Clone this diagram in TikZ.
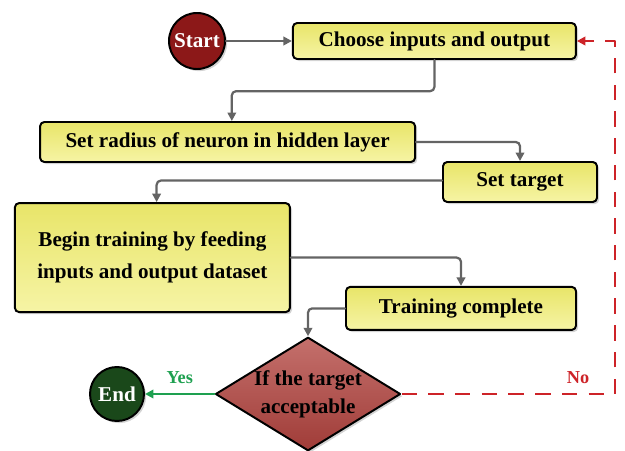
\documentclass[tikz,border=0pt]{standalone}
\usepackage{fontspec}
\setmainfont{Liberation Serif}
\usepackage{tikz}
\usetikzlibrary{calc,arrows.meta,positioning,shadows}
\usetikzlibrary{shapes.geometric}

\definecolor{boxtop}{RGB}{232,229,105}
\definecolor{boxbottom}{RGB}{246,244,165}
\definecolor{startred}{RGB}{140,24,24}
\definecolor{endgreen}{RGB}{26,72,26}
\definecolor{decidetop}{RGB}{196,112,108}
\definecolor{decidebottom}{RGB}{160,60,56}
\definecolor{flowgray}{RGB}{100,100,100}
\definecolor{yesgreen}{RGB}{30,160,80}
\definecolor{nored}{RGB}{205,35,40}

\begin{document}
\begin{tikzpicture}[
  line cap=round,
  line join=round,
  procbox/.style={draw=black,line width=1.4pt,rounded corners=3pt,
    top color=boxtop,bottom color=boxbottom,align=center,
    font=\fontsize{15}{22.5}\selectfont\bfseries,inner sep=2pt,
    drop shadow={opacity=0.35,shadow xshift=1.5pt,shadow yshift=-1.5pt}},
  termnode/.style={circle,draw=black,line width=1.4pt,text=white,
    font=\fontsize{15}{18}\selectfont\bfseries,inner sep=1pt,
    drop shadow={opacity=0.35,shadow xshift=1.5pt,shadow yshift=-1.5pt}},
  decision/.style={diamond,draw=black,line width=1.4pt,aspect=1.63,
    top color=decidetop,bottom color=decidebottom,align=center,
    font=\fontsize{15}{20}\selectfont\bfseries,inner sep=0pt,
    minimum width=4.4cm,minimum height=2.7cm,
    drop shadow={opacity=0.35,shadow xshift=1.5pt,shadow yshift=-1.5pt}},
  flowline/.style={flowgray,line width=1.6pt,rounded corners=3pt,
    -{Triangle[length=6pt,width=6pt]}},
  yesline/.style={yesgreen,line width=1.6pt,-{Triangle[length=6pt,width=6pt]}},
  noline/.style={nored,line width=1.6pt,dash pattern=on 11pt off 8pt,line cap=butt,
    -{Triangle[length=6pt,width=6pt]}},
  answer/.style={font=\fontsize{13}{15}\selectfont\bfseries}
]
\path[use as bounding box] (0,0) rectangle (15.625,11.25);

% terminals
\node[termnode,fill=startred,minimum size=1.4cm] (start) at (4.925,10.225) {Start};
\node[termnode,fill=endgreen,minimum size=1.35cm] (stop) at (2.925,1.4) {End};

% process steps
\node[procbox,minimum width=7.075cm,minimum height=0.9cm] (choose)
  at (10.86,10.225) {Choose inputs and output};
\node[procbox,minimum width=9.375cm,minimum height=1.0cm] (radius)
  at (5.69,7.7) {Set radius of neuron in hidden layer};
\node[procbox,minimum width=3.85cm,minimum height=1.0cm] (target)
  at (13.0,6.7) {Set target};
\node[procbox,minimum width=6.875cm,minimum height=2.725cm] (begin)
  at (3.81,4.81) {Begin training by feeding\\inputs and output dataset};
\node[procbox,minimum width=5.75cm,minimum height=1.075cm] (complete)
  at (11.525,3.54) {Training complete};
\node[decision] (decide) at (7.7,1.4) {If the target\\acceptable};

\coordinate (noturn) at (15.38,1.4);

% connectors
\draw[flowline] (start) -- (choose);
\draw[flowline] (choose.south) -- ++(0,-0.78) -| ([xshift=3pt]radius.north);
\draw[flowline] (radius.east) -| (target.north);
\draw[flowline] ([yshift=1pt]target.west) -| ([xshift=3pt]begin.north);
\draw[flowline] (begin.east) -| (complete.north);
\draw[flowline] (complete.west) -| (decide.north);
\draw[yesline] (decide.west) -- (stop.east)
  node[midway,above=3pt,answer,text=yesgreen] {Yes};
\draw[noline] (decide.east) -- (noturn) |- (choose.east);
\node[answer,text=nored] (nolabel) at (14.45,1.8) {No};
\end{tikzpicture}
\end{document}
